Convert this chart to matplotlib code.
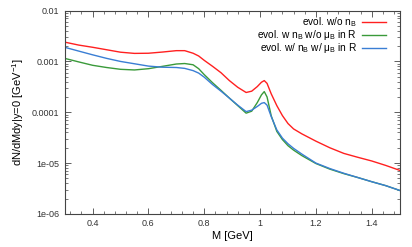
import numpy as np
import matplotlib
matplotlib.use('Agg')
import matplotlib.pyplot as plt
from matplotlib.ticker import MultipleLocator, FixedLocator, FixedFormatter, LogLocator, NullFormatter

plt.rcParams['font.family'] = ['Liberation Sans', 'DejaVu Sans']
plt.rcParams['mathtext.default'] = 'regular'

# invariant mass grid [GeV]
mass = [0.30, 0.35, 0.40, 0.45, 0.50, 0.55, 0.60, 0.65, 0.70, 0.73, 0.76, 0.78,
        0.80, 0.83, 0.86, 0.89, 0.92, 0.95, 0.97, 0.99, 1.005, 1.015, 1.025,
        1.04, 1.06, 1.08, 1.10, 1.12, 1.15, 1.20, 1.25, 1.30, 1.35, 1.40, 1.45,
        1.50]

# evol. w/o n_B
red = [2.4e-3, 2.1e-3, 1.9e-3, 1.7e-3, 1.52e-3, 1.44e-3, 1.45e-3, 1.53e-3,
       1.63e-3, 1.63e-3, 1.45e-3, 1.28e-3, 1.05e-3, 8.0e-4, 6.0e-4, 4.2e-4,
       3.1e-4, 2.45e-4, 2.6e-4, 3.2e-4, 3.9e-4, 4.2e-4, 3.7e-4, 2.3e-4,
       1.35e-4, 8.6e-5, 6.0e-5, 4.7e-5, 3.75e-5, 2.7e-5, 2.0e-5, 1.55e-5,
       1.3e-5, 1.1e-5, 9.0e-6, 7.2e-6]

# evol. w n_B w/o mu_B in R
green = [1.15e-3, 9.8e-4, 8.4e-4, 7.6e-4, 7.0e-4, 6.8e-4, 7.2e-4, 8.0e-4,
         8.9e-4, 9.1e-4, 8.6e-4, 7.2e-4, 5.5e-4, 3.8e-4, 2.7e-4, 1.9e-4,
         1.35e-4, 9.6e-5, 1.05e-4, 1.55e-4, 2.2e-4, 2.55e-4, 2.0e-4, 8.5e-5,
         4.2e-5, 2.9e-5, 2.2e-5, 1.8e-5, 1.4e-5, 9.8e-6, 7.6e-6, 6.2e-6,
         5.2e-6, 4.3e-6, 3.6e-6, 2.9e-6]

# evol. w/ n_B w/ mu_B in R
blue = [1.9e-3, 1.6e-3, 1.35e-3, 1.15e-3, 1.0e-3, 9.0e-4, 8.1e-4, 7.7e-4,
        7.6e-4, 7.3e-4, 6.6e-4, 5.9e-4, 4.9e-4, 3.5e-4, 2.6e-4, 1.9e-4,
        1.38e-4, 1.03e-4, 1.1e-4, 1.3e-4, 1.5e-4, 1.55e-4, 1.38e-4, 8.2e-5,
        4.5e-5, 3.1e-5, 2.4e-5, 1.95e-5, 1.5e-5, 1.0e-5, 7.8e-6, 6.3e-6,
        5.2e-6, 4.3e-6, 3.6e-6, 2.9e-6]

labels = ['evol. w/o n$_B$',
          'evol. w n$_B$ w/o \u03bc$_B$ in R',
          'evol. w/ n$_B$ w/ \u03bc$_B$ in R']
colors = ['#ff2020', '#3a9a3a', '#3a7ed4']

yticks = [1e-6, 1e-5, 1e-4, 1e-3, 1e-2]
ytick_labels = ['1e-06', '1e-05', '0.0001', '0.001', '0.01']

fig = plt.figure(figsize=(4.12, 2.47), dpi=100)
ax = fig.add_axes([0.157, 0.134, 0.813, 0.823])

for ys, c, lab in zip([red, green, blue], colors, labels):
    ax.plot(mass, ys, color=c, lw=1.0, label=lab)

ax.set_yscale('log')
ax.set_xlim(0.3, 1.5)
ax.set_ylim(1e-6, 1e-2)

ax.xaxis.set_major_locator(FixedLocator([0.4, 0.6, 0.8, 1.0, 1.2, 1.4]))
ax.xaxis.set_major_formatter(FixedFormatter(['0.4', '0.6', '0.8', '1', '1.2', '1.4']))
ax.xaxis.set_minor_locator(MultipleLocator(0.04))
ax.yaxis.set_major_locator(FixedLocator(yticks))
ax.yaxis.set_major_formatter(FixedFormatter(ytick_labels))
ax.yaxis.set_minor_locator(LogLocator(base=10, subs=np.arange(2, 10)))
ax.yaxis.set_minor_formatter(NullFormatter())

ax.tick_params(which='both', direction='in', top=True, right=True,
               labelsize=6.5, colors='#444444', labelcolor='#333333')
ax.tick_params(which='major', length=4, width=0.6, pad=4)
ax.tick_params(which='minor', length=2, width=0.5)
for s in ax.spines.values():
    s.set_linewidth(0.8)
    s.set_color('#444444')

ax.set_xlabel('M [GeV]', fontsize=8, labelpad=2)
ax.set_ylabel('dN/dMdy|y=0 [GeV$^{-1}$]', fontsize=8, labelpad=4)

leg = ax.legend(loc='upper right', bbox_to_anchor=(0.975, 1.0), frameon=False,
                fontsize=7.3, markerfirst=False, handlelength=2.4,
                handletextpad=0.5, labelspacing=-0.1, borderaxespad=0.2,
                borderpad=0.3)
for t in leg.get_texts():
    t.set_ha('right')

fig.savefig('out.png', dpi=100)
